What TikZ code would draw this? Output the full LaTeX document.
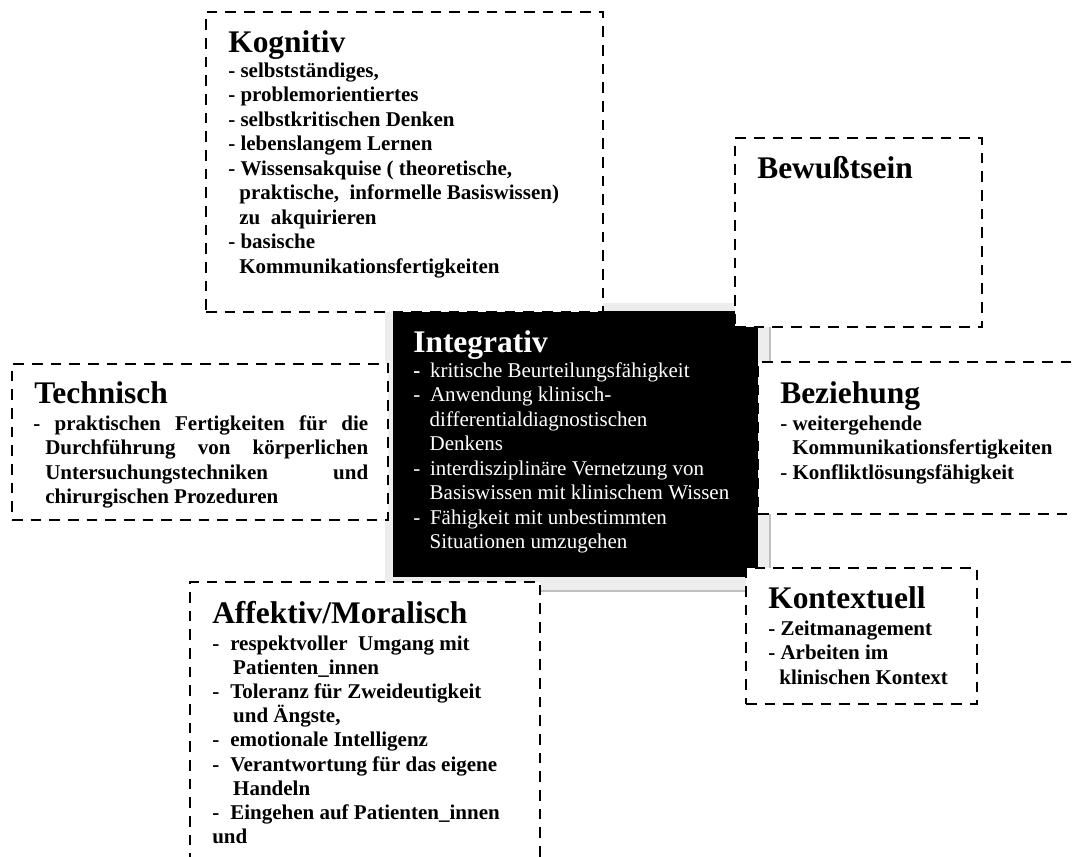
\documentclass[tikz,border=0pt]{standalone}
\usepackage{fontspec}
\setmainfont{Liberation Serif}
\begin{document}
\begin{tikzpicture}[x=0.75pt,y=-0.75pt,
  dbox/.style={draw=black, fill=white, line width=2.2pt,
    dash pattern=on 8pt off 6pt, rectangle, inner sep=0pt,
    outer sep=0pt, anchor=north west},
  title/.style={anchor=base west, inner sep=0pt,
    font=\fontsize{23.6pt}{28pt}\selectfont\bfseries},
  body/.style={anchor=base west, inner sep=0pt,
    font=\fontsize{15.75pt}{18.4pt}\selectfont\bfseries},
  wbody/.style={anchor=base west, inner sep=0pt, text=white,
    font=\fontsize{15.75pt}{18.4pt}\selectfont}
]
\clip (0,0) rectangle (1072,857);

% raised frame behind the central block
\node[fill=black!7, draw=none, minimum width=384*0.75pt,
  minimum height=287*0.75pt, inner sep=0pt, anchor=north west]
  (frame) at (385,303) {};
\draw[black!25, line width=1.5pt] (frame.north east) -- (frame.south east)
  -- (frame.south west);

% central block
\node[fill=black, minimum width=365*0.75pt, minimum height=266*0.75pt,
  inner sep=0pt, anchor=north west] (integ) at (393,311) {};

% dashed boxes
\node[dbox, minimum width=397*0.75pt, minimum height=300*0.75pt] (kog) at (206,12) {};
\node[dbox, minimum width=247*0.75pt, minimum height=189*0.75pt] (bew) at (735,138) {};
\node[dbox, minimum width=376*0.75pt, minimum height=156*0.75pt] (tech) at (12,364) {};
\node[dbox, minimum width=342*0.75pt, minimum height=152*0.75pt] (bez) at (758,362) {};
\node[dbox, minimum width=231*0.75pt, minimum height=136*0.75pt] (kon) at (746,568) {};
\node[dbox, minimum width=350*0.75pt, minimum height=298*0.75pt] (aff) at (190,582) {};

% Kognitiv
\node[title] (kogT) at (228,52) {Kognitiv};
\node[body] (kogB) at (228,77) {\parbox[t]{300pt}{%
- selbstständiges,\\
- problemorientiertes\\
- selbstkritischen Denken\\
- lebenslangem Lernen\\
- Wissensakquise ( theoretische,\\
\hspace*{8.3pt}praktische,\ \ informelle Basiswissen)\\
\hspace*{8.3pt}zu\ \ akquirieren\\
- basische\\
\hspace*{8.3pt}Kommunikationsfertigkeiten}};

% Bewusstsein
\node[title] (bewT) at (757,178) {Bewußtsein};

% Integrativ
\node[title, text=white] (integT) at (413,352) {Integrativ};
\node[wbody] (integB) at (413,377) {\parbox[t]{300pt}{%
\makebox[12.6pt][l]{\bfseries -}kritische Beurteilungsfähigkeit\\
\makebox[12.6pt][l]{-}Anwendung klinisch-\\
\hspace*{12.3pt}differentialdiagnostischen\\
\hspace*{12.3pt}Denkens\\
\makebox[12.6pt][l]{-}interdisziplinäre Vernetzung von\\
\hspace*{12.3pt}Basiswissen mit klinischem Wissen\\
\makebox[12.6pt][l]{-}Fähigkeit mit unbestimmten\\
\hspace*{12.3pt}Situationen umzugehen}};

% Technisch
\node[title] (techT) at (34,403) {Technisch};
\node[body] (techB) at (33,430) {\parbox[t]{251.25pt}{%
\hangindent=9pt\hangafter=1
- praktischen Fertigkeiten für die\linebreak
Durchführung von körperlichen\linebreak
Untersuchungstechniken und\linebreak
chirurgischen Prozeduren}};

% Beziehung
\node[title] (bezT) at (780,403) {Beziehung};
\node[body] (bezB) at (780,430) {\parbox[t]{230pt}{%
- weitergehende\\
\hspace*{9pt}Kommunikationsfertigkeiten\\
- Konfliktlösungsfähigkeit}};

% Kontextuell
\node[title] (konT) at (768,608) {Kontextuell};
\node[body] (konB) at (768,635) {\parbox[t]{160pt}{%
- Zeitmanagement\\
- Arbeiten im\\
\hspace*{8.3pt}klinischen Kontext}};

% Affektiv/Moralisch
\node[title] (affT) at (212,623) {Affektiv/Moralisch};
\node[body, font=\fontsize{15.75pt}{18.15pt}\selectfont\bfseries] (affB) at (212,650) {\parbox[t]{250pt}{%
\makebox[13.5pt][l]{-}respektvoller\ \ Umgang mit\\
\hspace*{15.7pt}Patienten\_innen\\
\makebox[13.5pt][l]{-}Toleranz für Zweideutigkeit\\
\hspace*{15.7pt}und Ängste,\\
\makebox[13.5pt][l]{-}emotionale Intelligenz\\
\makebox[13.5pt][l]{-}Verantwortung für das eigene\\
\hspace*{15.7pt}Handeln\\
\makebox[13.5pt][l]{-}Eingehen auf Patienten\_innen\\
und}};
\end{tikzpicture}
\end{document}
